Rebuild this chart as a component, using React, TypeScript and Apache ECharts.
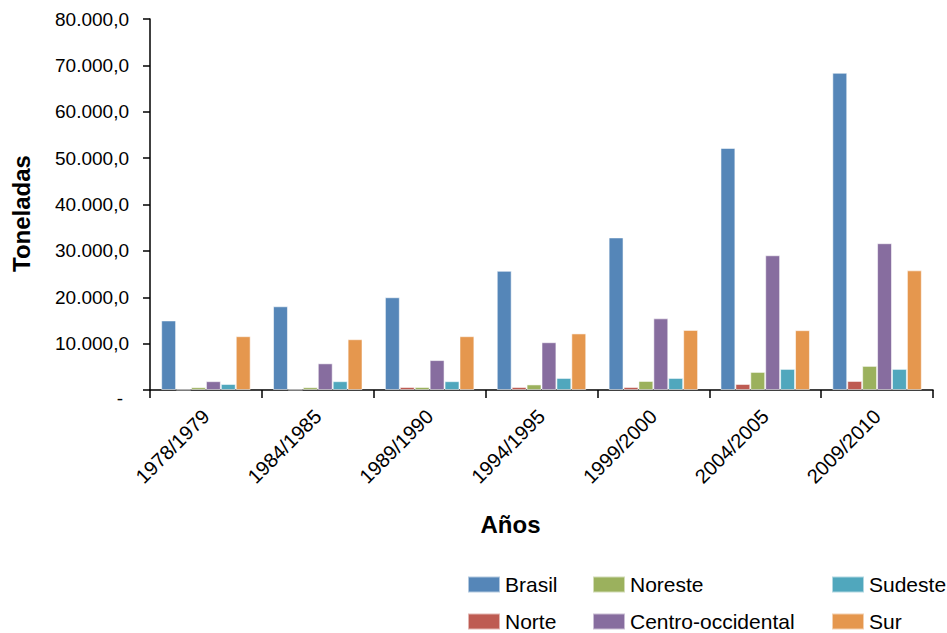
import React, { useEffect, useRef } from "react";
import * as echarts from "echarts";

const categories = ["1978/1979", "1984/1985", "1989/1990", "1994/1995", "1999/2000", "2004/2005", "2009/2010"];
const seriesNames = ["Brasil", "Norte", "Noreste", "Centro-occidental", "Sudeste", "Sur"];
const brasil = [15000, 18050, 20000, 25700, 32900, 52200, 68400];
const norte = [80, 80, 650, 650, 650, 1300, 1950];
const noreste = [600, 600, 650, 1200, 1950, 3900, 5200];
const centro = [1900, 5750, 6450, 10300, 15450, 29050, 31650];
const sudeste = [1300, 1900, 1900, 2600, 2600, 4550, 4550];
const sur = [11600, 10950, 11600, 12200, 12950, 12900, 25800];
const colors = ["#5586B8", "#BE5B52", "#9BB15D", "#876D9F", "#50A7BD", "#E5974E"];

function fmt(v: number): string {
  if (v === 0) return "{d|-}";
  const s = Math.round(v).toString().replace(/\B(?=(\d{3})+(?!\d))/g, ".");
  return s + ",0";
}

export default function App() {
  const ref = useRef<HTMLDivElement>(null);
  useEffect(() => {
    if (!ref.current) return;
    const chart = echarts.init(ref.current, undefined, { renderer: "svg" });
    const values = [brasil, norte, noreste, centro, sudeste, sur];
    const font = "'Liberation Sans', Arial, sans-serif";
    const legendBase = {
      orient: "vertical" as const,
      top: 574,
      padding: 0,
      itemWidth: 32,
      itemHeight: 16,
      itemGap: 16,
      icon: "rect",
      textStyle: { fontFamily: font, fontSize: 21, color: "#000" },
    };
    chart.setOption({
      animation: false,
      color: colors,
      grid: { left: 150, right: 14, top: 19, bottom: 243, containLabel: false },
      legend: [
        { ...legendBase, left: 467, data: ["Brasil", "Norte"] },
        { ...legendBase, left: 592, data: ["Noreste", "Centro-occidental"] },
        { ...legendBase, left: 831, data: ["Sudeste", "Sur"] },
      ],
      xAxis: {
        type: "category",
        data: categories,
        name: "Años",
        nameLocation: "middle",
        nameGap: 122,
        nameTextStyle: { fontFamily: font, fontWeight: "bold", fontSize: 24, color: "#000", padding: [0, 62, 0, 0] },
        axisLine: { lineStyle: { color: "#000", width: 1.5 } },
        axisTick: { show: true, length: 8, lineStyle: { color: "#000", width: 1.5 } },
        axisLabel: { rotate: 45, interval: 0, margin: 23, fontFamily: font, fontSize: 20, color: "#000" },
      },
      yAxis: {
        type: "value",
        min: 0,
        max: 80000,
        interval: 10000,
        name: "Toneladas",
        nameLocation: "middle",
        nameGap: 117,
        nameTextStyle: { fontFamily: font, fontWeight: "bold", fontSize: 24, color: "#000", padding: [0, 18, 0, 0] },
        axisLine: { show: true, lineStyle: { color: "#000", width: 1.5 } },
        axisTick: { show: true, length: 7, lineStyle: { color: "#000", width: 1.5 } },
        splitLine: { show: false },
        axisLabel: {
          margin: 21,
          fontFamily: font,
          fontSize: 19,
          color: "#000",
          formatter: fmt,
          rich: { d: { fontFamily: font, fontSize: 19, color: "#000", padding: [16, 6, 0, 0] } },
        },
      },
      series: seriesNames.map((n, i) => ({
        name: n,
        type: "bar",
        data: values[i],
        barGap: "0%",
        barCategoryGap: "20%",
        itemStyle: { color: colors[i], borderColor: "rgba(255,255,255,0.55)", borderWidth: 1 },
      })),
    });
    return () => chart.dispose();
  }, []);
  return <div ref={ref} style={{ position: "absolute", left: 0, top: 0, width: 947, height: 633 }} />;
}
